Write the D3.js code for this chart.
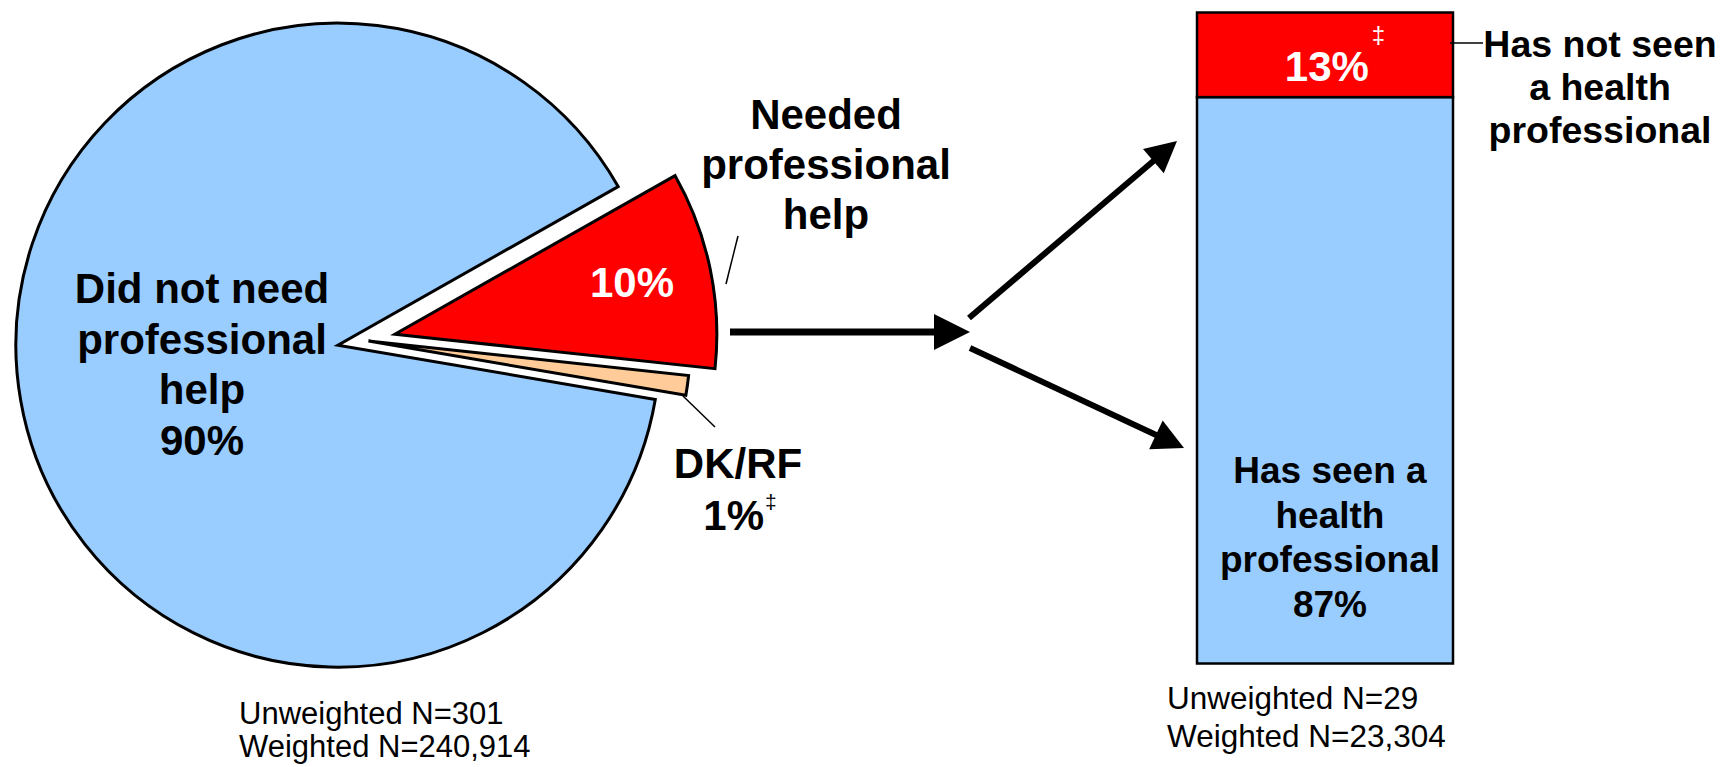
<!DOCTYPE html>
<html>
<head>
<meta charset="utf-8">
<script src="https://cdn.jsdelivr.net/npm/d3@7"></script>
<style>
  html, body { margin: 0; padding: 0; background: #fff; }
  svg { display: block; }
  text { font-family: "Liberation Sans", Arial, sans-serif; }
</style>
</head>
<body>
<svg id="chart" width="1722" height="767"></svg>
<script>
// ---- data ----
const pieCategories = ["Needed professional help", "DK/RF", "Did not need professional help"];
const pieValues = [10, 1, 90];
const pieLabels = ["10%", "1%", "90%"];
const barCategories = ["Has not seen a health professional", "Has seen a health professional"];
const barValues = [13, 87];
const barLabels = ["13%", "87%"];
const pieSampleText = ["Unweighted N=301", "Weighted N=240,914"];
const barSampleText = ["Unweighted N=29", "Weighted N=23,304"];

// ---- styles ----
const pieColors = ["#FF0000", "#FFCC99", "#99CCFF"];
const pieExplode = [31, 4, 27];
const barColors = ["#FF0000", "#99CCFF"];
const deg = Math.PI / 180;

const svg = d3.select("#chart");

// ---- exploded pie ----
const pieCx = 364.5, pieCy = 340.5, pieR = 322;
const startDeg = 60.5;
const pie = d3.pie().sort(null).value(d => d)
  .startAngle(startDeg * deg).endAngle((startDeg + 360) * deg);
const arcs = pie(pieValues);
const arc = d3.arc().innerRadius(0).outerRadius(pieR);

const pieG = svg.append("g").attr("transform", `translate(${pieCx},${pieCy})`);
pieG.selectAll("path.slice")
  .data(arcs)
  .join("path")
  .attr("class", "slice")
  .attr("transform", (d, i) => {
    const mid = (d.startAngle + d.endAngle) / 2;
    return `translate(${Math.sin(mid) * pieExplode[i]},${-Math.cos(mid) * pieExplode[i]})`;
  })
  .attr("d", arc)
  .attr("fill", (d, i) => pieColors[i])
  .attr("stroke", "#000")
  .attr("stroke-width", 3)
  .attr("stroke-linejoin", "miter")
  .attr("stroke-miterlimit", 6);

function multiLine(x, y0, lines, size, step, opts = {}) {
  const t = svg.append("text")
    .attr("text-anchor", opts.anchor || "middle")
    .attr("font-size", size)
    .attr("font-weight", opts.weight || "bold")
    .attr("fill", opts.fill || "#000");
  lines.forEach((s, i) => {
    t.append("tspan").attr("x", x).attr("y", y0 + i * step).text(s);
  });
  return t;
}

// "Did not need professional help" label inside the blue slice
multiLine(202, 303, ["Did not need", "professional", "help", pieLabels[2]], 42, 50.5);

// value inside the red slice
svg.append("text")
  .attr("x", 632).attr("y", 297)
  .attr("text-anchor", "middle")
  .attr("font-size", 42).attr("font-weight", "bold")
  .attr("fill", "#fff")
  .text(pieLabels[0]);

// "Needed professional help" callout
multiLine(826, 129, ["Needed", "professional", "help"], 42, 50);
svg.append("line")
  .attr("x1", 726).attr("y1", 284).attr("x2", 738).attr("y2", 236)
  .attr("stroke", "#000").attr("stroke-width", 1.5);

// DK/RF callout
multiLine(738, 478, ["DK/RF"], 42, 52);
const dkText = svg.append("text")
  .attr("x", 740).attr("y", 530)
  .attr("text-anchor", "middle")
  .attr("font-size", 42).attr("font-weight", "bold");
dkText.append("tspan").text(pieLabels[1]);
dkText.append("tspan").attr("font-size", 21).attr("font-weight", "normal")
  .attr("dy", -21).attr("dx", 1).text("\u2021");
svg.append("line")
  .attr("x1", 683).attr("y1", 396).attr("x2", 715).attr("y2", 427)
  .attr("stroke", "#000").attr("stroke-width", 1.5);

// sample size under the pie
pieSampleText.forEach((s, i) => {
  svg.append("text").attr("x", 239).attr("y", 724 + i * 33)
    .attr("font-size", 31).attr("fill", "#000").text(s);
});

// ---- arrows ----
function arrow(x1, y1, x2, y2, len, half, width) {
  const a = Math.atan2(y2 - y1, x2 - x1);
  const bx = x2 - Math.cos(a) * len, by = y2 - Math.sin(a) * len;
  svg.append("line")
    .attr("x1", x1).attr("y1", y1).attr("x2", bx + Math.cos(a) * 2).attr("y2", by + Math.sin(a) * 2)
    .attr("stroke", "#000").attr("stroke-width", width);
  const px = -Math.sin(a) * half, py = Math.cos(a) * half;
  svg.append("path")
    .attr("d", `M${x2},${y2}L${bx + px},${by + py}L${bx - px},${by - py}Z`)
    .attr("fill", "#000");
}
arrow(730, 332, 970, 332, 36, 18, 7);
arrow(969, 318, 1177, 141, 31, 16, 6);
arrow(970, 348, 1184, 448, 31, 16, 6);

// ---- 100% stacked bar ----
const x = d3.scaleBand().domain(["all"]).range([1197, 1453]).padding(0);
const y = d3.scaleLinear().domain([0, 100]).range([663.5, 12.5]);
// stack from the bottom: seen (blue) first, then not seen (red) on top
const order = [1, 0];
const tops = d3.cumsum(order.map(i => barValues[i]));
const segs = order.map((i, k) => ({ i, y0: tops[k] - barValues[i], y1: tops[k] }));

const barG = svg.append("g");
barG.selectAll("rect")
  .data(segs)
  .join("rect")
  .attr("x", x("all"))
  .attr("width", x.bandwidth())
  .attr("y", d => y(d.y1))
  .attr("height", d => y(d.y0) - y(d.y1))
  .attr("fill", d => barColors[d.i])
  .attr("stroke", "#000")
  .attr("stroke-width", 2.5);

const barMid = x("all") + x.bandwidth() / 2;
const redSeg = segs.find(s => s.i === 0);
const redMidY = (y(redSeg.y0) + y(redSeg.y1)) / 2;
const t13 = svg.append("text")
  .attr("x", barMid + 10).attr("y", redMidY + 26)
  .attr("text-anchor", "middle")
  .attr("font-size", 42).attr("font-weight", "bold").attr("fill", "#fff");
t13.append("tspan").text(barLabels[0]);
t13.append("tspan").attr("font-size", 24).attr("font-weight", "normal")
  .attr("dy", -38).attr("dx", 3).text("\u2021");

multiLine(barMid + 5, 483, ["Has seen a", "health", "professional", barLabels[1]], 37, 44.7);

// "Has not seen" callout
svg.append("line")
  .attr("x1", 1450).attr("y1", 43).attr("x2", 1483).attr("y2", 43)
  .attr("stroke", "#000").attr("stroke-width", 1.5);
multiLine(1600, 57, ["Has not seen", "a health", "professional"], 37.5, 43);

// sample size under the bar
barSampleText.forEach((s, i) => {
  svg.append("text").attr("x", 1167).attr("y", 709 + i * 38)
    .attr("font-size", 31.5).attr("fill", "#000").text(s);
});
</script>
</body>
</html>
